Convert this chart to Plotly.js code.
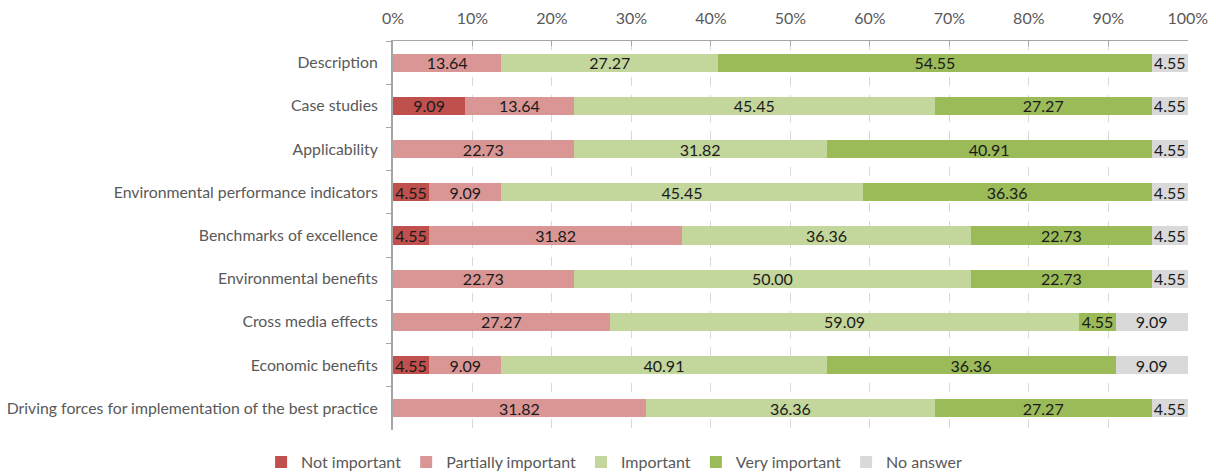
<!DOCTYPE html>
<html><head><meta charset="utf-8">
<script src="https://cdn.plot.ly/plotly-3.0.1.min.js"></script>
<style>html,body{margin:0;padding:0;background:#fff}</style>
</head><body>
<div id="chart" style="width:1216px;height:475px"></div>
<script>
const categories = ["Description","Case studies","Applicability","Environmental performance indicators","Benchmarks of excellence","Environmental benefits","Cross media effects","Economic benefits","Driving forces for implementation of the best practice"];
const seriesNames = ["Not important","Partially important","Important","Very important","No answer"];
const notImportant = [0, 9.09, 0, 4.55, 4.55, 0, 0, 4.55, 0];
const partiallyImportant = [13.64, 13.64, 22.73, 9.09, 31.82, 22.73, 27.27, 9.09, 31.82];
const important = [27.27, 45.45, 31.82, 45.45, 36.36, 50.00, 59.09, 40.91, 36.36];
const veryImportant = [54.55, 27.27, 40.91, 36.36, 22.73, 22.73, 4.55, 36.36, 27.27];
const noAnswer = [4.55, 4.55, 4.55, 4.55, 4.55, 4.55, 9.09, 9.09, 4.55];
const tickValues = [0, 10, 20, 30, 40, 50, 60, 70, 80, 90, 100];
const tickLabels = ["0%", "10%", "20%", "30%", "40%", "50%", "60%", "70%", "80%", "90%", "100%"];
const colors = ["#C0504D","#D99694","#C3D69B","#9BBB59","#D9D9D9"];
const allSeries = [notImportant, partiallyImportant, important, veryImportant, noAnswer];
const FONT = 'Lato, "Open Sans", sans-serif';

const traces = allSeries.map((vals, i) => ({
  type: 'bar', orientation: 'h', name: seriesNames[i],
  y: categories, x: vals.map(v => v === 0 ? null : v),
  text: vals.map(v => v === 0 ? '' : v.toFixed(2)),
  textposition: 'inside', insidetextanchor: 'middle', textangle: 0,
  textfont: {family: FONT, size: 16, color: '#1a1a1a'},
  marker: {color: colors[i], line: {width: 0}},
  hoverinfo: 'none', cliponaxis: false
}));

const layout = {
  width: 1216, height: 475,
  margin: {l: 393, r: 28, t: 41, b: 45},
  barmode: 'stack', bargap: 0.58,
  paper_bgcolor: '#fff', plot_bgcolor: '#fff',
  font: {family: FONT, size: 16, color: '#595959'},
  uniformtext: {mode: 'show', minsize: 16},
  xaxis: {
    side: 'top', range: [0, 100.03], tickmode: 'array', tickvals: tickValues, ticktext: tickLabels,
    showgrid: true, gridcolor: '#D9D9D9', griddash: 'dash', gridwidth: 1,
    showline: true, linecolor: '#A6A6A6', linewidth: 1,
    ticks: 'inside', ticklen: 5, tickcolor: '#A6A6A6',
    ticklabelstandoff: 10,
    zeroline: false, fixedrange: true,
    tickfont: {size: 16, color: '#595959'}
  },
  yaxis: {
    autorange: 'reversed', type: 'category',
    showline: true, linecolor: '#A6A6A6', linewidth: 2,
    ticks: 'outside', tickson: 'boundaries', ticklen: 5, tickcolor: '#A6A6A6',
    ticklabelstandoff: 10,
    showgrid: false, tickfont: {size: 15.8, color: '#595959'}
  },
  showlegend: true,
  legend: {
    orientation: 'h', xref: 'container', yref: 'container',
    x: 0.505, xanchor: 'center', y: 0.027, yanchor: 'middle',
    traceorder: 'normal', font: {size: 16, color: '#595959'},
    itemwidth: 30, itemsizing: 'constant'
  }
};
Plotly.newPlot('chart', traces, layout, {staticPlot: true, displayModeBar: false});
</script>
</body></html>
